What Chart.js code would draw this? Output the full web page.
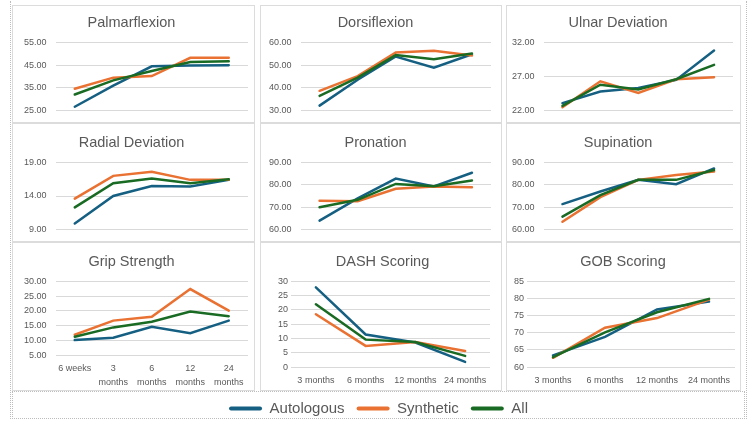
<!DOCTYPE html>
<html>
<head>
<meta charset="utf-8">
<script src="https://cdn.jsdelivr.net/npm/chart.js@4.4.0/dist/chart.umd.min.js"></script>
<style>
  body { margin: 0; width: 750px; height: 422px; background: #fff; position: relative; overflow: hidden; }
  .frame { position: absolute; left: 10px; top: 1px; width: 735px; height: 418px; border-left: 1px dotted #bdbdbd; border-right: 1px dotted #bdbdbd; }
  .panel { position: absolute; border: 1px solid #dcdcdc; background: #fff; box-sizing: border-box; overflow: hidden; }
  .panel canvas { display: block; }
  #legendBox { position: absolute; left: 12px; top: 391px; width: 733px; height: 28px; border: 1px dotted #bdbdbd; box-sizing: border-box; }
  #legendCanvas { position: absolute; left: 12px; top: 389px; z-index: 5; }
</style>
</head>
<body>
<div class="frame"></div>
<div class="panel" style="left:12px;top:5px;width:243px;height:118px"><canvas id="palmar" width="241" height="119"></canvas></div>
<div class="panel" style="left:260px;top:5px;width:242px;height:118px"><canvas id="dorsi" width="240" height="119"></canvas></div>
<div class="panel" style="left:506px;top:5px;width:235px;height:118px"><canvas id="ulnar" width="233" height="119"></canvas></div>
<div class="panel" style="left:12px;top:123px;width:243px;height:119px"><canvas id="radial" width="241" height="120"></canvas></div>
<div class="panel" style="left:260px;top:123px;width:242px;height:119px"><canvas id="pron" width="240" height="120"></canvas></div>
<div class="panel" style="left:506px;top:123px;width:235px;height:119px"><canvas id="sup" width="233" height="120"></canvas></div>
<div class="panel" style="left:12px;top:242px;width:243px;height:149px"><canvas id="grip" width="241" height="147"></canvas></div>
<div class="panel" style="left:260px;top:242px;width:242px;height:149px"><canvas id="dash" width="240" height="147"></canvas></div>
<div class="panel" style="left:506px;top:242px;width:235px;height:149px"><canvas id="gob" width="233" height="147"></canvas></div>
<div id="legendBox"></div>
<canvas id="legendCanvas" width="733" height="80"></canvas>
<script>
// time points
const periods5 = ["6 weeks", "3 months", "6 months", "12 months", "24 months"];
const periods4 = ["3 months", "6 months", "12 months", "24 months"];
const gripTicks = ["6 weeks", ["3", "months"], ["6", "months"], ["12", "months"], ["24", "months"]];

const palmarAuto = [26.7, 36.0, 44.5, 44.8, 45.0];
const palmarSynth = [34.6, 39.5, 40.2, 48.2, 48.2];
const palmarAll = [32.1, 38.3, 42.4, 46.4, 46.7];

const dorsiAuto = [32.2, 43.6, 53.8, 48.9, 54.8];
const dorsiSynth = [38.7, 45.2, 55.6, 56.3, 54.2];
const dorsiAll = [36.5, 44.5, 54.4, 52.6, 55.1];

const ulnarAuto = [23.1, 24.8, 25.3, 26.5, 30.8];
const ulnarSynth = [22.5, 26.3, 24.6, 26.6, 26.9];
const ulnarAll = [22.7, 25.8, 25.1, 26.6, 28.7];

const radialAuto = [9.9, 14.0, 15.5, 15.4, 16.4];
const radialSynth = [13.6, 17.0, 17.6, 16.4, 16.4];
const radialAll = [12.3, 15.9, 16.6, 15.9, 16.5];

const pronAuto = [64.0, 73.9, 82.8, 79.3, 85.4];
const pronSynth = [72.9, 72.7, 78.2, 79.2, 78.9];
const pronAll = [70.0, 73.3, 80.4, 79.4, 81.9];

const supAuto = [71.4, 77.0, 82.2, 80.3, 87.3];
const supSynth = [63.5, 74.5, 82.2, 84.4, 85.9];
const supAll = [65.8, 75.4, 82.2, 82.2, 86.6];

const gripAuto = [10.1, 10.9, 14.6, 12.4, 16.7];
const gripSynth = [11.9, 16.7, 18.0, 27.4, 20.1];
const gripAll = [11.2, 14.4, 16.3, 19.8, 18.2];

const dashAuto = [27.9, 11.4, 8.6, 1.8];
const dashSynth = [18.5, 7.4, 8.8, 5.6];
const dashAll = [22.0, 9.6, 8.8, 3.9];

const gobAuto = [63.4, 68.8, 76.8, 79.1];
const gobSynth = [62.7, 71.5, 74.3, 79.7];
const gobAll = [62.9, 70.1, 76.0, 79.9];

const blue = "#156082";
const orange = "#E97132";
const green = "#196B24";

Chart.defaults.font.family = "'Liberation Sans', Arial, sans-serif";
Chart.defaults.color = "#595959";
Chart.defaults.animation = false;

function panelChart(id, title, labels, auto, synth, all, yMin, yMax, yStep, decimals, pad, showX) {
    new Chart(document.getElementById(id), {
        "type": "line",
        "data": {
            "labels": labels,
            "datasets": [
                { "label": "Autologous", "data": auto, "borderColor": blue, "order": 2 },
                { "label": "Synthetic", "data": synth, "borderColor": orange, "order": 1 },
                { "label": "All", "data": all, "borderColor": green, "order": 0 }
            ]
        },
        "options": {
            responsive: false,
            elements: {
                line: { borderWidth: 2.5, tension: 0, fill: false, borderCapStyle: "round" },
                point: { radius: 0 }
            },
            layout: { padding: pad },
            plugins: {
                legend: { display: false },
                tooltip: { enabled: false },
                title: {
                    display: true,
                    text: title,
                    color: "#595959",
                    font: { size: 14.5, weight: "normal" },
                    padding: { top: 7, bottom: 11 }
                }
            },
            scales: {
                x: {
                    display: showX,
                    offset: true,
                    grid: { display: false, drawTicks: false },
                    border: { display: false },
                    ticks: { font: { size: 9, lineHeight: 1.55 }, color: "#595959", padding: 6.5, maxRotation: 0, autoSkip: false }
                },
                y: {
                    min: yMin,
                    max: yMax,
                    grid: { color: "#d9d9d9", drawTicks: false },
                    border: { display: false },
                    ticks: {
                        stepSize: yStep,
                        autoSkip: false,
                        padding: decimals ? 9 : 3,
                        font: { size: 9 },
                        color: "#595959",
                        callback: v => v.toFixed(decimals)
                    }
                }
            }
        }
    });
}

panelChart("palmar", "Palmarflexion", periods5, palmarAuto, palmarSynth, palmarAll, 25, 55, 10, 2, { left: 2, right: 6, top: 1, bottom: 0 }, false);
panelChart("dorsi", "Dorsiflexion", periods5, dorsiAuto, dorsiSynth, dorsiAll, 30, 60, 10, 2, { left: -1, right: 10, top: 1, bottom: 0 }, false);
panelChart("ulnar", "Ulnar Deviation", periods5, ulnarAuto, ulnarSynth, ulnarAll, 22, 32, 5, 2, { left: -4, right: 7, top: 1, bottom: 0 }, false);
panelChart("radial", "Radial Deviation", periods5, radialAuto, radialSynth, radialAll, 9, 19, 5, 2, { left: 2, right: 6, top: 3, bottom: 0 }, false);
panelChart("pron", "Pronation", periods5, pronAuto, pronSynth, pronAll, 60, 90, 10, 2, { left: -1, right: 10, top: 3, bottom: 0 }, false);
panelChart("sup", "Supination", periods5, supAuto, supSynth, supAll, 60, 90, 10, 2, { left: -4, right: 7, top: 3, bottom: 0 }, false);
panelChart("grip", "Grip Strength", gripTicks, gripAuto, gripSynth, gripAll, 5, 30, 5, 2, { left: 2, right: 6, top: 3, bottom: -6 }, true);
panelChart("dash", "DASH Scoring", periods4, dashAuto, dashSynth, dashAll, 0, 30, 5, 0, { left: 14, right: 11, top: 3, bottom: -4 }, true);
panelChart("gob", "GOB Scoring", periods4, gobAuto, gobSynth, gobAll, 60, 85, 5, 0, { left: 4, right: 5, top: 3, bottom: -4 }, true);

// shared legend
new Chart(document.getElementById("legendCanvas"), {
    "type": "line",
    "data": {
        "labels": [],
        "datasets": [
            { "label": "Autologous", "data": [], "backgroundColor": blue, "borderColor": blue, "borderWidth": 0 },
            { "label": "Synthetic", "data": [], "backgroundColor": orange, "borderColor": orange, "borderWidth": 0 },
            { "label": "All", "data": [], "backgroundColor": green, "borderColor": green, "borderWidth": 0 }
        ]
    },
    "options": {
        responsive: false,
        layout: { padding: 0 },
        scales: { x: { display: false }, y: { display: false } },
        plugins: {
            tooltip: { enabled: false },
            legend: {
                display: true,
                position: "top",
                labels: {
                    boxWidth: 33,
                    boxHeight: 4,
                    padding: 12,
                    useBorderRadius: true,
                    borderRadius: 2,
                    color: "#595959",
                    font: { size: 15 }
                }
            }
        }
    }
});
</script>
</body>
</html>
